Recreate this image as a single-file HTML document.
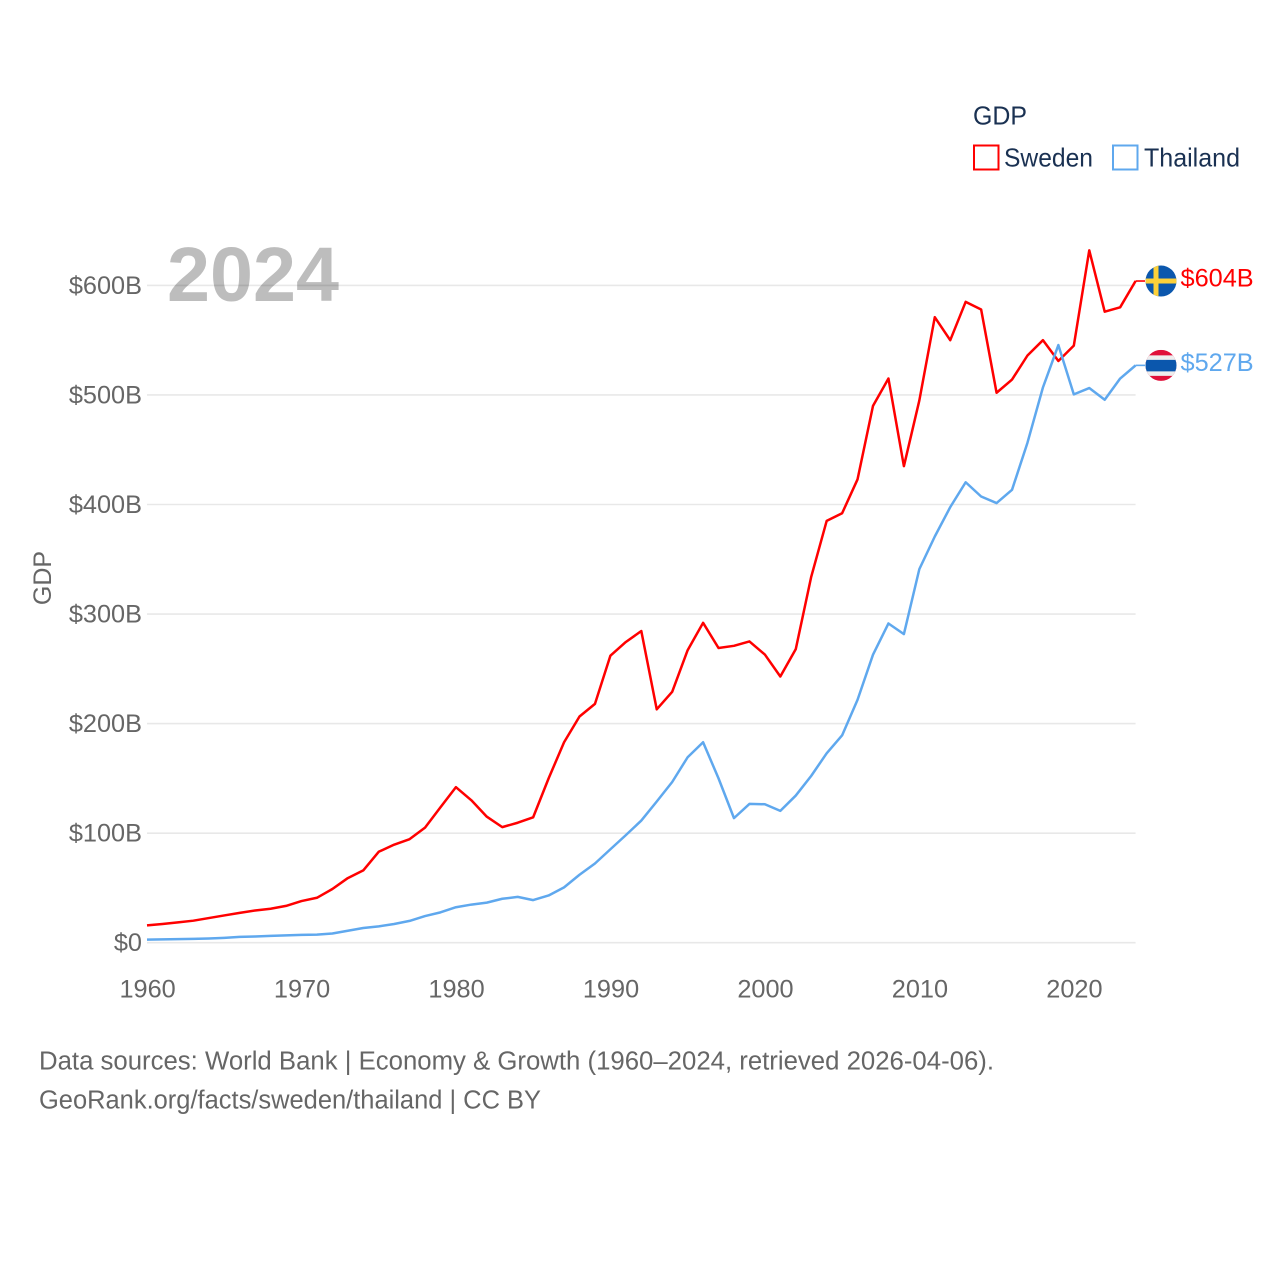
<!DOCTYPE html>
<html lang="en">
<head>
<meta charset="utf-8">
<title>GDP: Sweden and Thailand, 1960–2024</title>
<style>
html,body{margin:0;padding:0;background:#fff;}
svg{display:block;font-family:"Liberation Sans",sans-serif;}
</style>
</head>
<body>
<svg id="chart" xmlns="http://www.w3.org/2000/svg" width="1280" height="1280" viewBox="0 0 1280 1280">
  <rect x="0" y="0" width="1280" height="1280" fill="#ffffff"/>
  <text x="167" y="301" font-size="77" font-weight="700" fill="#bdbdbd" textLength="172" lengthAdjust="spacingAndGlyphs">2024</text>
  <g id="grid"></g>
  <g id="y-ticks"></g>
  <g id="x-ticks"></g>
  <text transform="translate(51,578) rotate(-90)" text-anchor="middle" font-size="25" fill="#666666">GDP</text>
  <g id="series"></g>

  <g>
    <text x="973" y="124.5" font-size="26" fill="#1a3152" textLength="54" lengthAdjust="spacingAndGlyphs">GDP</text>
    <g>
      <rect x="974" y="145.5" width="24.5" height="24" fill="#ffffff" stroke="#ff0000" stroke-width="2"/>
      <text x="1004" y="166.5" font-size="26" fill="#1a3152" textLength="89" lengthAdjust="spacingAndGlyphs">Sweden</text>
    </g>
    <g>
      <rect x="1113" y="145.5" width="24.5" height="24" fill="#ffffff" stroke="#5fa8ee" stroke-width="2"/>
      <text x="1144" y="166.5" font-size="26" fill="#1a3152" textLength="96" lengthAdjust="spacingAndGlyphs">Thailand</text>
    </g>
  </g>

  <defs>
    <clipPath id="clip-se"><circle id="clip-se-circle" cx="1161" cy="281" r="15.5"/></clipPath>
    <clipPath id="clip-th"><circle id="clip-th-circle" cx="1161" cy="365.5" r="15.5"/></clipPath>
  </defs>
  <g id="flag-sweden" clip-path="url(#clip-se)">
    <rect x="1145" y="265" width="32" height="32" fill="#0b57ad"/>
    <rect x="1145" y="278.5" width="32" height="5" fill="#fdd13a"/>
    <rect x="1153.5" y="265" width="5" height="32" fill="#fdd13a"/>
  </g>
  <g id="flag-thailand" clip-path="url(#clip-th)">
    <rect x="1145" y="350" width="32" height="32" fill="#e0103a"/>
    <rect x="1145" y="355.5" width="32" height="20.5" fill="#eeeeee"/>
    <rect x="1145" y="360" width="32" height="11.5" fill="#0b57ad"/>
  </g>
  <g id="end-labels"></g>

  <g>
    <text x="39" y="1069.5" font-size="25.5" fill="#666666" textLength="955" lengthAdjust="spacingAndGlyphs">Data sources: World Bank | Economy &amp; Growth (1960–2024, retrieved 2026-04-06).</text>
    <text x="39" y="1108.5" font-size="25.5" fill="#666666" textLength="502" lengthAdjust="spacingAndGlyphs">GeoRank.org/facts/sweden/thailand | CC BY</text>
  </g>
</svg>
<script>
const startYear = 1960;
const swedenValues = [15.8,17.1,18.5,20.1,22.5,24.9,27.2,29.4,31.0,33.6,38,41,49,59,66,83,89.5,94.5,105,123.6,142,130,115,105.5,109.5,114.5,150,183,206.5,218,262,274.5,284.5,213,229,267,292,269,271,275,263,243,268,334,385,392,423,490,515,435,495,571,550,585,578,502,514,536,550,531,545,632,576,580,604];
const thailandValues = [2.8,3.0,3.3,3.5,3.8,4.4,5.3,5.7,6.2,6.7,7.1,7.4,8.4,10.9,13.4,14.9,17.1,19.9,24.3,27.7,32.4,34.8,36.6,40.1,41.8,38.9,43.1,50.5,62,72.3,85.3,98.2,111.5,128.9,146.7,169.3,183,150,113.7,126.7,126.4,120.3,134.3,152.3,172.9,189.3,221.8,262.9,291.4,281.7,341,370.8,397.6,420.3,407.3,401.3,413.4,456.4,506.8,545.5,500.5,506.3,495.6,515,527];
const yTickValues = [0,100,200,300,400,500,600];
const yTickLabels = ["$0","$100B","$200B","$300B","$400B","$500B","$600B"];
const xTickValues = [1960,1970,1980,1990,2000,2010,2020];
const xTickLabels = ["1960","1970","1980","1990","2000","2010","2020"];
const swedenEndLabel = "$604B";
const thailandEndLabel = "$527B";

const NS = "http://www.w3.org/2000/svg";
const plotLeft = 147, plotRight = 1135.6, plotZero = 942.7, pxPer100 = 109.55;
const lastYear = startYear + swedenValues.length - 1;
function xScale(year) { return plotLeft + (year - startYear) * (plotRight - plotLeft) / (2024 - startYear); }
function yScale(v) { return plotZero - v * pxPer100 / 100; }
function make(tag, attrs, parent, text) {
  const el = document.createElementNS(NS, tag);
  for (const k in attrs) el.setAttribute(k, attrs[k]);
  if (text !== undefined) el.textContent = text;
  parent.appendChild(el);
  return el;
}
const grid = document.getElementById("grid");
const yTicks = document.getElementById("y-ticks");
const xTicks = document.getElementById("x-ticks");
const seriesGroup = document.getElementById("series");
const endLabels = document.getElementById("end-labels");

yTickValues.forEach(function (v, i) {
  const line = make("line", {x1: plotLeft, x2: plotRight, y1: yScale(v), y2: yScale(v), stroke: "#000000", "stroke-opacity": 0.09, "stroke-width": 1.6}, grid);
  
  
  const label = make("text", {x: 142, y: yScale(v) + 8.5, "text-anchor": "end", "font-size": 25.3, fill: "#666666"}, yTicks, yTickLabels[i]);
  
  
});
xTickValues.forEach(function (v, i) {
  const label = make("text", {x: xScale(v) + 0.6, y: 997.5, "text-anchor": "middle", "font-size": 25.3, fill: "#666666"}, xTicks, xTickLabels[i]);
  
  
});
function linePath(values) {
  return values.map(function (v, i) {
    return (i ? "L" : "M") + xScale(startYear + i).toFixed(2) + " " + yScale(v).toFixed(2);
  }).join(" ");
}
function drawSeries(values, color, endLabel, key) {
  const path = make("path", {d: linePath(values), fill: "none", stroke: color, "stroke-width": 2.5, "stroke-linejoin": "round"}, seriesGroup);
  
  
  const endV = values[values.length - 1];
  const stub = make("line", {x1: xScale(lastYear), x2: 1145, y1: yScale(endV), y2: yScale(endV), stroke: color, "stroke-width": 1.6}, seriesGroup);
  
  
  const label = make("text", {x: 1180.5, y: yScale(endV) + 5.5, "font-size": 25.3, fill: color}, endLabels, endLabel);
  
  
  const dy = yScale(endV) - (key === "se" ? 281 : 365.5);
  document.getElementById("flag-" + (key === "se" ? "sweden" : "thailand")).setAttribute("transform", "translate(0," + dy + ")");
}
drawSeries(swedenValues, "#ff0000", swedenEndLabel, "se");
drawSeries(thailandValues, "#5fa8ee", thailandEndLabel, "th");
</script>
</body>
</html>
